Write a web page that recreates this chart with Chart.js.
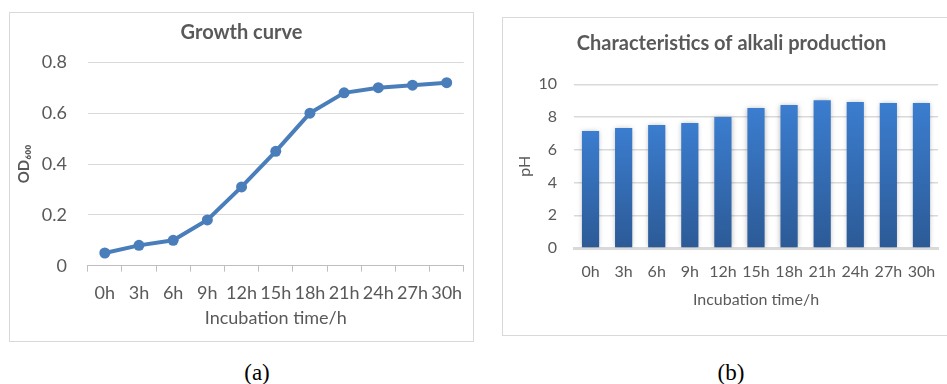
<!DOCTYPE html>
<html>
<head>
<meta charset="utf-8">
<script src="https://cdn.jsdelivr.net/npm/chart.js@4.4.1/dist/chart.umd.min.js"></script>
<style>
  html, body { margin: 0; padding: 0; background: #ffffff; width: 947px; height: 384px; overflow: hidden; position: relative; }
  .box { position: absolute; border: 1px solid #d9d9d9; background: #fff; box-sizing: content-box; overflow: hidden; }
  .box canvas { display: block; }
  .cap { position: absolute; font-family: "Liberation Serif", "Times New Roman", serif; font-size: 23px; color: #000; transform: translate(-50%, -50%); white-space: nowrap; }
</style>
</head>
<body>
<div class="box" id="boxA" style="left:9px; top:12px; width:463px; height:328px;"><canvas id="chartA" width="463" height="328"></canvas></div>
<div class="box" id="boxB" style="left:502px; top:17px; width:470px; height:317px;"><canvas id="chartB" width="457" height="317"></canvas></div>
<div class="cap" style="left:257px; top:373px;">(a)</div>
<div class="cap" style="left:731px; top:373px;">(b)</div>
<script>
// ---- Data ----
const categories = ["0h", "3h", "6h", "9h", "12h", "15h", "18h", "21h", "24h", "27h", "30h"];
const odValues = [0.05, 0.08, 0.10, 0.18, 0.31, 0.45, 0.60, 0.68, 0.70, 0.71, 0.72];
const phValues = [7.15, 7.33, 7.51, 7.64, 8.0, 8.55, 8.73, 9.03, 8.92, 8.86, 8.86];
const titleA = "Growth curve";
const titleB = "Characteristics of alkali production";
const xTitle = "Incubation time/h";
const yTitleA = "OD\u2086\u2080\u2080";
const yTitleB = "pH";

const FONT = "Lato, 'Open Sans', sans-serif";
const TXT = "#595959";
Chart.defaults.font.family = FONT;
Chart.defaults.color = TXT;
Chart.defaults.devicePixelRatio = 1;

// invisible right-hand spacer axis so the chart title centres on the whole box
function spacerAxis(w) {
  return {
    type: "linear", position: "right", display: true,
    grid: { display: false, drawTicks: false },
    border: { display: false },
    ticks: { display: false },
    title: { display: false },
    afterFit: (s) => { s.width = w; }
  };
}

// ---- Chart A: line ----
new Chart(document.getElementById("chartA"), {
  type: "line",
  data: {
    labels: categories,
    datasets: [{
      data: odValues,
      yAxisID: "y",
      borderColor: "#4a7ebb",
      backgroundColor: "#4a7ebb",
      borderWidth: 4,
      pointRadius: 5.5,
      pointHoverRadius: 5.5,
      pointBorderWidth: 0,
      pointBackgroundColor: "#4a7ebb",
      tension: 0
    }]
  },
  options: {
    responsive: false,
    animation: false,
    layout: { padding: 0 },
    plugins: {
      legend: { display: false },
      tooltip: { enabled: false },
      title: {
        display: true, text: titleA, color: TXT,
        font: { size: 20, weight: "bold", family: FONT },
        padding: { top: 8, bottom: 17.3 }
      }
    },
    scales: {
      x: {
        offset: true,
        grid: { display: true, drawOnChartArea: false, drawTicks: true, tickLength: 6, offset: true, color: "#bfbfbf", lineWidth: 1 },
        border: { display: true, color: "#bfbfbf", width: 1 },
        ticks: { color: TXT, font: { size: 18, family: FONT }, padding: 10.5, maxRotation: 0, autoSkip: false },
        title: { display: true, text: xTitle, color: TXT, font: { size: 18, family: FONT }, padding: { top: 0, bottom: 12.2 } },
        afterFit: (s) => { s.height = 75.3; }
      },
      y: {
        min: 0, max: 0.8,
        grid: { color: "#d9d9d9", lineWidth: 1, drawTicks: false },
        border: { display: false },
        ticks: { stepSize: 0.2, color: TXT, font: { size: 18, family: FONT }, padding: 20.7 },
        title: { display: true, text: yTitleA, color: TXT, font: { size: 15, weight: "bold", family: FONT }, padding: { top: 5, bottom: 0 } },
        afterFit: (s) => { s.width = 77.7; }
      },
      yR: spacerAxis(7.7)
    }
  }
});

// ---- Chart B: bar ----
const shadowPlugin = {
  id: "barShadow",
  beforeDatasetsDraw(chart) {
    const ctx = chart.ctx;
    ctx.save();
    ctx.shadowColor = "rgba(0,0,0,0.28)";
    ctx.shadowBlur = 5;
    ctx.shadowOffsetX = 0;
    ctx.shadowOffsetY = 0;
  },
  afterDatasetsDraw(chart) { chart.ctx.restore(); }
};

function barGradient(context) {
  const chart = context.chart;
  const area = chart.chartArea;
  if (!area) return "#3a7bcc";
  const yScale = chart.scales.y;
  const v = context.raw;
  const top = yScale.getPixelForValue(v);
  const bottom = yScale.getPixelForValue(0);
  const g = chart.ctx.createLinearGradient(0, top, 0, bottom);
  g.addColorStop(0, "#3b7dcf");
  g.addColorStop(1, "#2c5a96");
  return g;
}

new Chart(document.getElementById("chartB"), {
  type: "bar",
  data: {
    labels: categories,
    datasets: [{
      data: phValues,
      yAxisID: "y",
      backgroundColor: barGradient,
      borderWidth: 0,
      categoryPercentage: 1.0,
      barPercentage: 0.52
    }]
  },
  plugins: [shadowPlugin],
  options: {
    responsive: false,
    animation: false,
    layout: { padding: 0 },
    plugins: {
      legend: { display: false },
      tooltip: { enabled: false },
      title: {
        display: true, text: titleB, color: TXT,
        font: { size: 20, weight: "bold", family: FONT },
        padding: { top: 14, bottom: 28.3 }
      }
    },
    scales: {
      x: {
        grid: { display: false, drawTicks: false },
        border: { display: true, color: "#d9d9d9", width: 3 },
        ticks: { color: TXT, font: { size: 16, family: FONT }, padding: 14.4, maxRotation: 0, autoSkip: false },
        title: { display: true, text: xTitle, color: TXT, font: { size: 16, family: FONT }, padding: { top: 0, bottom: 25.4 } },
        afterFit: (s) => { s.height = 87; }
      },
      y: {
        min: 0, max: 10,
        grid: { color: "#d9d9d9", lineWidth: 1.5, drawTicks: false },
        border: { display: false },
        ticks: { stepSize: 2, color: TXT, font: { size: 16, family: FONT }, padding: 17 },
        title: { display: true, text: yTitleB, color: TXT, font: { size: 16, family: FONT }, padding: { top: 12.4, bottom: 0 } },
        afterFit: (s) => { s.width = 71; }
      },
      yR: spacerAxis(22)
    }
  }
});
</script>
</body>
</html>
